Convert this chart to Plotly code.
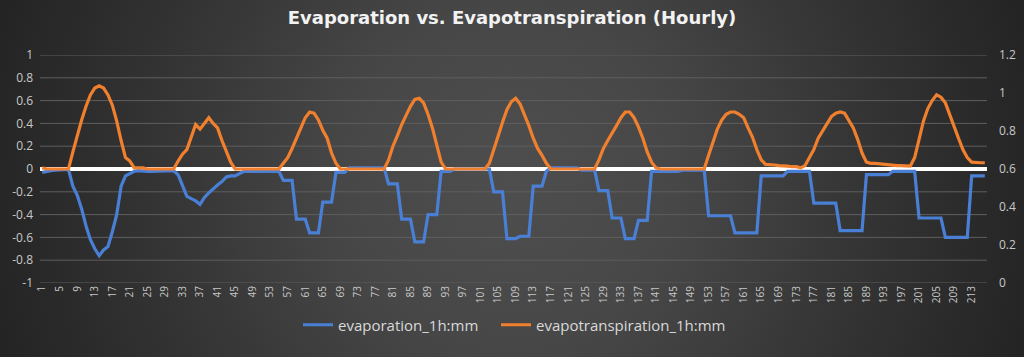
import base64
import plotly.graph_objects as go

hours = list(range(1, 217))

evaporation = [
    -0.03, -0.02, -0.015, -0.01, -0.005, -0.005, -0.005, -0.15, -0.23, -0.35,
    -0.5, -0.62, -0.7, -0.76, -0.71, -0.68, -0.55, -0.4, -0.15, -0.06,
    -0.04, -0.02, -0.015, -0.02, -0.02, -0.02, -0.02, -0.02, -0.02, -0.02,
    -0.015, -0.05, -0.15, -0.24, -0.26, -0.28, -0.31, -0.25, -0.21, -0.17,
    -0.14, -0.11, -0.07, -0.06, -0.06, -0.04, -0.02, -0.02, -0.02, -0.02,
    -0.02, -0.02, -0.02, -0.02, -0.02, -0.1, -0.1, -0.1, -0.44, -0.44,
    -0.44, -0.56, -0.56, -0.56, -0.29, -0.29, -0.29, -0.03, -0.03, -0.03,
    0.01, 0.01, 0.01, 0.01, 0.01, 0.01, 0.01, 0.01, 0.01, -0.13,
    -0.13, -0.13, -0.44, -0.44, -0.44, -0.64, -0.64, -0.64, -0.4, -0.4,
    -0.4, -0.02, -0.02, -0.02, 0.0, 0.0, 0.0, 0.0, 0.0, 0.0,
    0.0, 0.0, 0.0, -0.2, -0.2, -0.2, -0.61, -0.61, -0.61, -0.59,
    -0.59, -0.59, -0.15, -0.15, -0.15, -0.02, 0.01, 0.01, 0.01, 0.01,
    0.01, 0.01, 0.01, -0.01, -0.01, -0.01, -0.01, -0.19, -0.19, -0.19,
    -0.43, -0.43, -0.43, -0.61, -0.61, -0.61, -0.45, -0.45, -0.45, -0.02,
    -0.02, -0.02, -0.02, -0.02, -0.02, -0.02, -0.01, -0.01, -0.01, -0.01,
    -0.01, -0.01, -0.41, -0.41, -0.41, -0.41, -0.41, -0.41, -0.56, -0.56,
    -0.56, -0.56, -0.56, -0.56, -0.06, -0.06, -0.06, -0.06, -0.06, -0.06,
    -0.02, -0.02, -0.02, -0.02, -0.02, -0.02, -0.3, -0.3, -0.3, -0.3,
    -0.3, -0.3, -0.54, -0.54, -0.54, -0.54, -0.54, -0.54, -0.05, -0.05,
    -0.05, -0.05, -0.05, -0.05, -0.02, -0.02, -0.02, -0.02, -0.02, -0.02,
    -0.43, -0.43, -0.43, -0.43, -0.43, -0.43, -0.6, -0.6, -0.6, -0.6,
    -0.6, -0.6, -0.06, -0.06, -0.06, -0.06,
]

evapotranspiration = [
    0.607, 0.6, 0.6, 0.6, 0.6, 0.6, 0.6, 0.69, 0.78, 0.858,
    0.93, 0.99, 1.026, 1.038, 1.026, 0.99, 0.936, 0.852, 0.75, 0.66,
    0.642, 0.606, 0.606, 0.606, 0.6, 0.6, 0.6, 0.6, 0.6, 0.6,
    0.6, 0.642, 0.678, 0.702, 0.768, 0.834, 0.81, 0.84, 0.87, 0.84,
    0.816, 0.75, 0.69, 0.636, 0.6, 0.6, 0.6, 0.6, 0.6, 0.6,
    0.6, 0.6, 0.6, 0.6, 0.6, 0.63, 0.66, 0.708, 0.762, 0.81,
    0.87, 0.9, 0.894, 0.858, 0.804, 0.762, 0.684, 0.63, 0.6, 0.6,
    0.6, 0.6, 0.6, 0.6, 0.6, 0.6, 0.6, 0.6, 0.6, 0.648,
    0.72, 0.774, 0.834, 0.882, 0.93, 0.966, 0.972, 0.948, 0.888, 0.816,
    0.72, 0.636, 0.6, 0.6, 0.6, 0.6, 0.6, 0.6, 0.6, 0.6,
    0.6, 0.6, 0.63, 0.708, 0.774, 0.846, 0.912, 0.954, 0.972, 0.942,
    0.888, 0.828, 0.762, 0.708, 0.672, 0.63, 0.6, 0.6, 0.6, 0.6,
    0.6, 0.6, 0.6, 0.6, 0.6, 0.6, 0.6, 0.648, 0.708, 0.75,
    0.786, 0.828, 0.87, 0.9, 0.9, 0.87, 0.822, 0.762, 0.69, 0.636,
    0.606, 0.6, 0.6, 0.6, 0.6, 0.6, 0.6, 0.6, 0.6, 0.6,
    0.6, 0.6, 0.672, 0.744, 0.81, 0.858, 0.888, 0.9, 0.9, 0.888,
    0.87, 0.816, 0.768, 0.702, 0.648, 0.624, 0.624, 0.621, 0.618, 0.618,
    0.615, 0.612, 0.612, 0.606, 0.618, 0.66, 0.702, 0.762, 0.798, 0.84,
    0.876, 0.894, 0.9, 0.894, 0.858, 0.816, 0.756, 0.684, 0.636, 0.63,
    0.63, 0.627, 0.624, 0.621, 0.618, 0.618, 0.618, 0.615, 0.615, 0.66,
    0.762, 0.852, 0.918, 0.96, 0.99, 0.978, 0.948, 0.882, 0.828, 0.762,
    0.702, 0.66, 0.636, 0.633, 0.633, 0.633,
]

x_tick_values = [1, 5, 9, 13, 17, 21, 25, 29, 33, 37, 41, 45, 49, 53, 57, 61,
                 65, 69, 73, 77, 81, 85, 89, 93, 97, 101, 105, 109, 113, 117,
                 121, 125, 129, 133, 137, 141, 145, 149, 153, 157, 161, 165,
                 169, 173, 177, 181, 185, 189, 193, 197, 201, 205, 209, 213]
x_tick_labels = [str(v) for v in x_tick_values]

left_ticks = [-1, -0.8, -0.6, -0.4, -0.2, 0, 0.2, 0.4, 0.6, 0.8, 1]
left_labels = ["-1", "-0.8", "-0.6", "-0.4", "-0.2", "0", "0.2", "0.4", "0.6", "0.8", "1"]
right_ticks = [0, 0.2, 0.4, 0.6, 0.8, 1, 1.2]
right_labels = ["0", "0.2", "0.4", "0.6", "0.8", "1", "1.2"]

W, H = 1024, 357
ML, MR, MT, MB = 40, 37, 55, 74
PW, PH = W - ML - MR, H - MT - MB

svg = f'''<svg xmlns="http://www.w3.org/2000/svg" width="{W}" height="{H}">
<defs><radialGradient id="g" gradientUnits="userSpaceOnUse" cx="512" cy="180" r="560">
<stop offset="0" stop-color="#4e4e4e"/>
<stop offset="0.3" stop-color="#474747"/>
<stop offset="0.6" stop-color="#363636"/>
<stop offset="0.85" stop-color="#292929"/>
<stop offset="1" stop-color="#222222"/>
</radialGradient></defs>
<rect width="{W}" height="{H}" fill="url(#g)"/></svg>'''
bg_src = "data:image/svg+xml;base64," + base64.b64encode(svg.encode()).decode()

BLUE = "#4a7fd6"
ORANGE = "#f07f2e"
FONT = "Open Sans"
GRID = "#5e5e5e"

fig = go.Figure()
fig.add_trace(go.Scatter(
    x=hours, y=evaporation, name="evaporation_1h:mm", mode="lines",
    line=dict(color=BLUE, width=3.2), yaxis="y", legend="legend"))
fig.add_trace(go.Scatter(
    x=hours, y=evapotranspiration, name="evapotranspiration_1h:mm", mode="lines",
    line=dict(color=ORANGE, width=3.2), yaxis="y2", legend="legend2"))

shapes = []
for v in left_ticks:
    if v == 0:
        continue
    shapes.append(dict(type="line", xref="paper", yref="y", x0=0, x1=1, y0=v, y1=v,
                       line=dict(color=GRID, width=1), layer="between"))
shapes.append(dict(type="line", xref="paper", yref="y", x0=0, x1=1, y0=0, y1=0,
                   line=dict(color="#ffffff", width=4), layer="between"))

legend_style = dict(orientation="h", xanchor="left", y=(283 - 325) / PH,
                    yanchor="middle", bgcolor="rgba(0,0,0,0)",
                    font=dict(family=FONT, size=15, color="#d9d9d9"),
                    itemwidth=30)

fig.update_layout(
    width=W, height=H,
    margin=dict(l=ML, r=MR, t=MT, b=MB, pad=0),
    paper_bgcolor="#2a2a2a",
    plot_bgcolor="rgba(0,0,0,0)",
    images=[dict(source=bg_src, xref="paper", yref="paper",
                 x=-ML / PW, y=1 + MT / PH, sizex=W / PW, sizey=H / PH,
                 xanchor="left", yanchor="top", sizing="stretch", layer="below")],
    shapes=shapes,
    title=dict(text="Evaporation vs. Evapotranspiration (Hourly)",
               x=0.5, xanchor="center", y=1 - 18 / H, yanchor="middle",
               font=dict(family="DejaVu Sans", size=18, color="#f2f2f2", weight="bold")),
    xaxis=dict(range=[0.5, 216.5], tickmode="array", tickvals=x_tick_values,
               ticktext=x_tick_labels, tickangle=-90, showgrid=False, zeroline=False,
               showline=False, ticks="", automargin=False,
               tickfont=dict(family=FONT, size=10, color="#c8c8c8")),
    yaxis=dict(range=[-1, 1], tickmode="array", tickvals=left_ticks, ticktext=left_labels,
               showgrid=False, zeroline=False, automargin=False,
               showline=False, ticks="", ticklabelstandoff=6,
               tickfont=dict(family=FONT, size=12, color="#c8c8c8")),
    yaxis2=dict(range=[0, 1.2], overlaying="y", side="right", tickmode="array",
                tickvals=right_ticks, ticktext=right_labels, showgrid=False,
                zeroline=False, showline=False, ticks="", ticklabelstandoff=11,
                automargin=False,
                tickfont=dict(family=FONT, size=12, color="#c8c8c8")),
    legend=dict(x=(298 - ML) / PW, **legend_style),
    legend2=dict(x=(496 - ML) / PW, **legend_style),
    showlegend=True,
)

fig.write_html("out.html", config={"displayModeBar": False},
               post_script="document.body.style.margin='0';")
